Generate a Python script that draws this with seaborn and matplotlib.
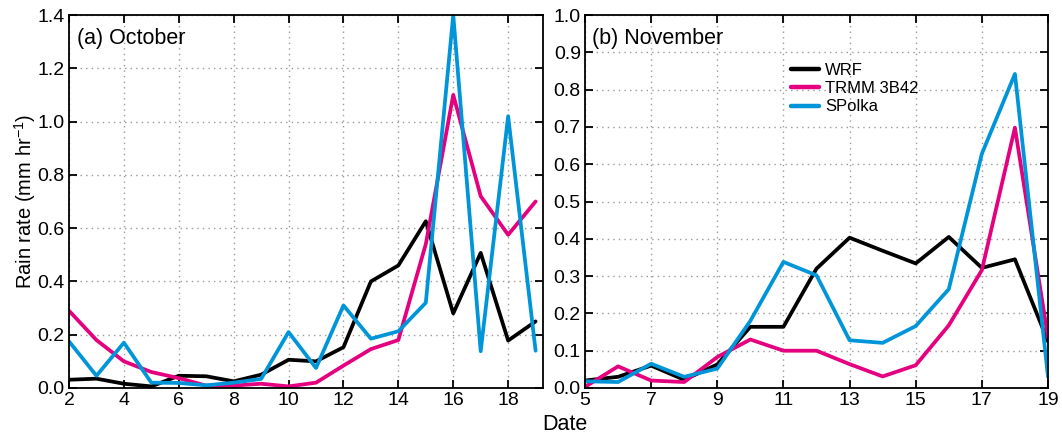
import numpy as np
import pandas as pd
import matplotlib
matplotlib.use("Agg")
import matplotlib.pyplot as plt
import seaborn as sns

# ---- October daily mean rain rate (mm/hr) ----
oct_days = [2, 3, 4, 5, 6, 7, 8, 9, 10, 11, 12, 13, 14, 15, 16, 17, 18, 19]
oct_wrf = [0.031, 0.035, 0.016, 0.006, 0.046, 0.044, 0.025, 0.050, 0.106, 0.100,
           0.153, 0.400, 0.460, 0.626, 0.280, 0.507, 0.178, 0.250]
oct_trmm = [0.290, 0.180, 0.100, 0.060, 0.037, 0.009, 0.009, 0.016, 0.006, 0.020,
            0.084, 0.146, 0.180, 0.540, 1.100, 0.720, 0.575, 0.700]
oct_spolka = [0.175, 0.046, 0.170, 0.020, 0.019, 0.010, 0.020, 0.034, 0.210, 0.075,
              0.310, 0.185, 0.213, 0.320, 1.400, 0.138, 1.020, 0.140]

# ---- November daily mean rain rate (mm/hr) ----
nov_days = [5, 6, 7, 8, 9, 10, 11, 12, 13, 14, 15, 16, 17, 18, 19]
nov_wrf = [0.020, 0.030, 0.060, 0.022, 0.063, 0.164, 0.164, 0.320, 0.403, 0.368,
           0.334, 0.405, 0.322, 0.345, 0.125]
nov_trmm = [0.003, 0.058, 0.020, 0.016, 0.083, 0.130, 0.100, 0.100, 0.064, 0.031,
            0.061, 0.168, 0.316, 0.698, 0.135]
nov_spolka = [0.018, 0.016, 0.065, 0.030, 0.052, 0.180, 0.338, 0.302, 0.128, 0.121,
              0.166, 0.265, 0.628, 0.842, 0.030]

series_names = ["WRF", "TRMM 3B42", "SPolka"]
series_colors = ["#000000", "#E4007F", "#0095D9"]

oct_xticks = [2, 4, 6, 8, 10, 12, 14, 16, 18]
oct_yticks = [0.0, 0.2, 0.4, 0.6, 0.8, 1.0, 1.2, 1.4]
nov_xticks = [5, 7, 9, 11, 13, 15, 17, 19]
nov_yticks = [0.0, 0.1, 0.2, 0.3, 0.4, 0.5, 0.6, 0.7, 0.8, 0.9, 1.0]


def to_long(days, cols):
    frames = []
    for name, vals in zip(series_names, cols):
        frames.append(pd.DataFrame({"day": days, "rate": vals, "source": name}))
    return pd.concat(frames, ignore_index=True)


oct_df = to_long(oct_days, [oct_wrf, oct_trmm, oct_spolka])
nov_df = to_long(nov_days, [nov_wrf, nov_trmm, nov_spolka])

sns.set_style("ticks")
plt.rcParams["font.family"] = ["Liberation Sans", "DejaVu Sans"]
plt.rcParams["mathtext.fontset"] = "custom"
plt.rcParams["mathtext.rm"] = "Liberation Sans"
plt.rcParams["mathtext.default"] = "regular"
plt.rcParams["text.color"] = "black"
plt.rcParams["axes.labelcolor"] = "black"

fig = plt.figure(figsize=(10.62, 4.33), dpi=100)
ax_a = fig.add_axes([69 / 1062, 45 / 433, 474 / 1062, 373 / 433])
ax_b = fig.add_axes([585 / 1062, 45 / 433, 463 / 1062, 373 / 433])

palette = dict(zip(series_names, series_colors))


def style_axis(ax, xticks, yticks, xlim, ylim, fmt):
    ax.set_xlim(*xlim)
    ax.set_ylim(*ylim)
    ax.set_xticks(xticks)
    ax.set_yticks(yticks)
    ax.set_yticklabels([fmt.format(v) for v in yticks])
    ax.grid(True, linestyle=(0, (1, 3)), color="#9a9a9a", linewidth=1.0)
    ax.tick_params(direction="in", length=6, width=1.3, top=True, right=True,
                   labelsize=14, pad=3, colors="black")
    for sp in ax.spines.values():
        sp.set_visible(True)
        sp.set_linewidth(1.3)
        sp.set_color("black")
    ax.set_xlabel("")
    ax.set_ylabel("")


sns.lineplot(data=oct_df, x="day", y="rate", hue="source", palette=palette,
             hue_order=series_names, linewidth=2.7, ax=ax_a, legend=False,
             errorbar=None)
style_axis(ax_a, oct_xticks, oct_yticks, (2, 19.27), (0, 1.4), "{:.1f}")
ax_a.text(0.016, 0.965, "(a) October", transform=ax_a.transAxes, fontsize=15.5,
          va="top", ha="left")
ax_a.set_ylabel("Rain rate (mm hr$^{-1}$)", fontsize=14.5, labelpad=0)

sns.lineplot(data=nov_df, x="day", y="rate", hue="source", palette=palette,
             hue_order=series_names, linewidth=2.7, ax=ax_b, errorbar=None)
style_axis(ax_b, nov_xticks, nov_yticks, (5, 19), (0, 1.0), "{:.1f}")
ax_b.text(0.016, 0.965, "(b) November", transform=ax_b.transAxes, fontsize=15.5,
          va="top", ha="left")
leg = ax_b.legend(loc="upper left", bbox_to_anchor=(0.43, 0.89), frameon=False,
                  fontsize=12, handlelength=1.7, handletextpad=0.35,
                  labelspacing=0.2, borderaxespad=0.0)
for line in leg.get_lines():
    line.set_linewidth(3.2)

fig.text(565 / 1062, 1 - 424 / 433, "Date", fontsize=15.5, ha="center", va="center")

fig.savefig("out.png", dpi=100)
